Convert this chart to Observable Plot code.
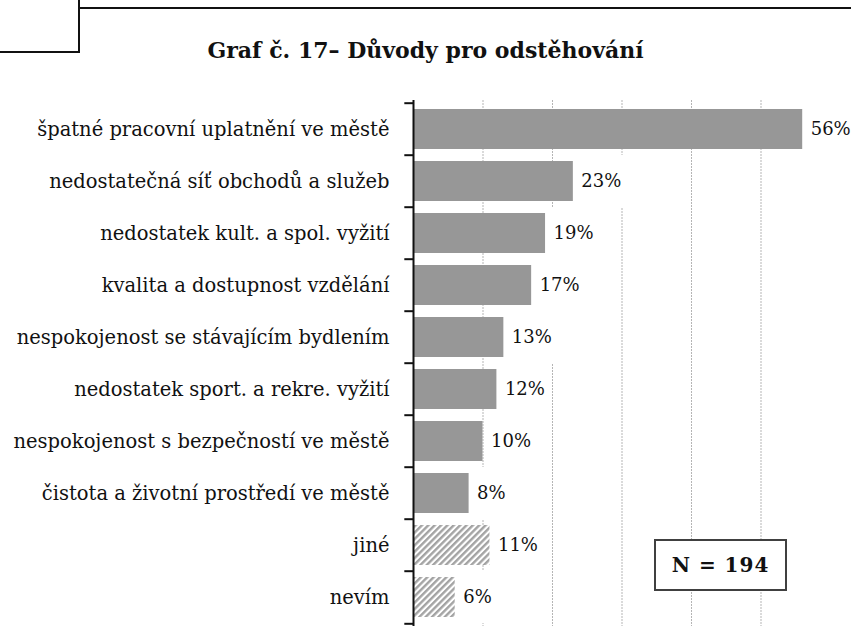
<!DOCTYPE html>
<html><head><meta charset="utf-8">
<script src="https://cdn.jsdelivr.net/npm/d3@7"></script>
<script src="https://cdn.jsdelivr.net/npm/@observablehq/plot@0.6"></script>
<style>
body{margin:0;background:#fff;width:851px;height:636px;position:relative;overflow:hidden;font-family:"DejaVu Serif",serif;color:#111;}
.ln{position:absolute;background:#111;}
#title{position:absolute;left:0;width:851px;top:39px;text-align:center;font-size:22px;line-height:22px;font-weight:bold;white-space:nowrap;}
#chart{position:absolute;left:0;top:80px;}
#chart svg, #chart svg text{font-family:"DejaVu Serif",serif !important;}
#nbox{position:absolute;left:654px;top:539px;width:129px;height:48px;border:2px solid #404040;background:#fff;font-weight:bold;font-size:20px;line-height:48px;text-align:center;letter-spacing:1px;white-space:nowrap;}
</style></head><body>
<div class="ln" style="left:79px;top:7px;width:772px;height:1.5px"></div>
<div class="ln" style="left:78px;top:0;width:2px;height:53px"></div>
<div class="ln" style="left:0;top:51px;width:80px;height:2px"></div>
<div id="title"></div>
<div id="chart"></div>
<div id="nbox"></div>
<script>
const titleText = "Graf č. 17– Důvody pro odstěhování";
const categories = [
  "špatné pracovní uplatnění ve městě",
  "nedostatečná síť obchodů a služeb",
  "nedostatek kult. a spol. vyžití",
  "kvalita a dostupnost vzdělání",
  "nespokojenost se stávajícím bydlením",
  "nedostatek sport. a rekre. vyžití",
  "nespokojenost s bezpečností ve městě",
  "čistota a životní prostředí ve městě",
  "jiné",
  "nevím"
];
const values = [56, 23, 19, 17, 13, 12, 10, 8, 11, 6];
const hatchedCategories = ["jiné", "nevím"];
const gridTicks = [10, 20, 30, 40, 50];
const xDomain = [0, 60];
const nLabel = "N = 194";

document.getElementById("title").textContent = titleText;
document.getElementById("nbox").textContent = nLabel;

const data = categories.map((c, i) => ({cat: c, value: values[i], label: values[i] + "%"}));
const solid = data.filter(d => !hatchedCategories.includes(d.cat));
const hatched = data.filter(d => hatchedCategories.includes(d.cat));

const H = 556, mT = 20, mB = 10;
const step = (H - mT - mB) / categories.length;
const pxPerUnit = (851 - 413 - 21) / (xDomain[1] - xDomain[0]);
const labelUnits = d => (d.label.length * 13 + 12) / pxPerUnit;

const chart = Plot.plot({
  width: 851, height: H,
  marginLeft: 413, marginRight: 21, marginTop: mT, marginBottom: mB,
  style: {fontFamily: '"DejaVu Serif", serif', fontSize: "19.5px", color: "#111", background: "transparent"},
  x: {domain: xDomain, axis: null},
  y: {domain: categories, paddingInner: 0.23, paddingOuter: 0.115, tickSize: 0, tickPadding: 24, label: null},
  marks: [
    Plot.ruleX(gridTicks, {stroke: "#b5b5b5", strokeDasharray: "2,1"}),
    Plot.barX(data, {y: "cat", x1: d => d.value + 0.3, x2: d => d.value + 0.3 + labelUnits(d), fill: "white", insetTop: -step * 0.115, insetBottom: -step * 0.115}),
    Plot.barX(solid, {y: "cat", x: "value", fill: "#979797"}),
    Plot.barX(hatched, {y: "cat", x: "value", fill: "url(#hatch)"}),
    Plot.text(data, {y: "cat", x: "value", text: "label", textAnchor: "start", dx: 8, fill: "#111", fontSize: 18}),
    Plot.ruleX([0], {stroke: "#111", strokeWidth: 2}),
    Plot.ruleY(categories, {y: d => d, x1: -1.25, x2: 0, dy: -step / 2, stroke: "#111", strokeWidth: 2}),
    Plot.ruleY([categories[categories.length - 1]], {y: d => d, x1: -1.25, x2: 0, dy: step / 2, stroke: "#111", strokeWidth: 2})
  ]
});

const svg = d3.select(chart);
const defs = svg.insert("defs", ":first-child");
const p = defs.append("pattern").attr("id", "hatch").attr("patternUnits", "userSpaceOnUse")
  .attr("width", 4.5).attr("height", 4.5).attr("patternTransform", "rotate(45)");
p.append("rect").attr("width", 4.5).attr("height", 4.5).attr("fill", "#ffffff");
p.append("rect").attr("width", 2.4).attr("height", 4.5).attr("fill", "#a3a3a3");

document.getElementById("chart").appendChild(chart);
</script>
</body></html>
